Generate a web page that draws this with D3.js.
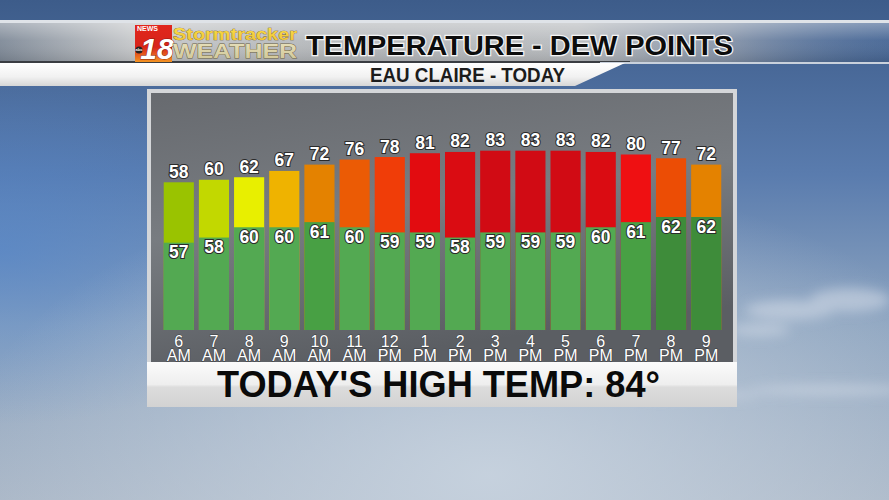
<!DOCTYPE html>
<html lang="en">
<head>
    <meta charset="UTF-8">
    <title>Temperature - Dew Points</title>
    <script src="https://cdn.jsdelivr.net/npm/d3@7"></script>
    <style>
        body { margin: 0; background: #6f8db5; }
        svg { display: block; font-family: "Liberation Sans", Arial, sans-serif; }
    </style>
</head>
<body>
    <div id="chart"></div>

    <script>
        // =============================
        // 1. Data
        // =============================
        const hours = ["6", "7", "8", "9", "10", "11", "12", "1", "2", "3", "4", "5", "6", "7", "8", "9"];
        const periods = ["AM", "AM", "AM", "AM", "AM", "AM", "PM", "PM", "PM", "PM", "PM", "PM", "PM", "PM", "PM", "PM"];
        const temps = [58, 60, 62, 67, 72, 76, 78, 81, 82, 83, 83, 83, 82, 80, 77, 72];
        const dews = [57, 58, 60, 60, 61, 60, 59, 59, 58, 59, 59, 59, 60, 61, 62, 62];
        const highTemp = 84;

        const data = hours.map((h, i) => ({ h, p: periods[i], t: temps[i], d: dews[i] }));

        // =============================
        // 2. SVG Setup
        // =============================
        const width = 889, height = 500;
        const svg = d3.select("#chart").append("svg")
            .attr("width", width)
            .attr("height", height);
        const defs = svg.append("defs");

        function gradient(id, stops, x2 = 0, y2 = 1) {
            const g = defs.append("linearGradient").attr("id", id)
                .attr("x1", 0).attr("y1", 0).attr("x2", x2).attr("y2", y2);
            stops.forEach(([o, c, op]) => g.append("stop").attr("offset", o)
                .attr("stop-color", c).attr("stop-opacity", op == null ? 1 : op));
        }
        function radial(id, cx, cy, r, color, op) {
            const g = defs.append("radialGradient").attr("id", id)
                .attr("cx", cx).attr("cy", cy).attr("r", r);
            g.append("stop").attr("offset", 0).attr("stop-color", color).attr("stop-opacity", op);
            g.append("stop").attr("offset", 1).attr("stop-color", color).attr("stop-opacity", 0);
        }

        gradient("sky", [[0, "#3d5c8a"], [0.35, "#5a7cae"], [0.65, "#8ea5c0"], [1, "#aab7c7"]]);
        gradient("band", [[0, "#7f8a98"], [0.15, "#c6c8ca"], [0.35, "#b6b9bc"], [0.65, "#b9bcbf"], [0.82, "#8593a8"], [1, "#4d6d9b", 0.3]], 1, 0);
        gradient("bandGloss", [[0, "#ffffff", 0.35], [0.45, "#ffffff", 0.05], [1, "#000000", 0.12]]);
        gradient("strip", [[0, "#ffffff"], [0.6, "#f1f1f1"], [1, "#d6d6d6"]]);
        gradient("panel", [[0, "#676a6f"], [0.5, "#787c81"], [1, "#5b5e63"]], 0.3, 1);
        gradient("foot", [[0, "#fbfbfb"], [0.5, "#eeeeee"], [0.56, "#dcdcdc"], [1, "#d2d2d2"]]);
        gradient("logoRed", [[0, "#e0261c"], [0.6, "#d8241a"], [1, "#f39422"]]);
        gradient("logoGold", [[0, "#fbe04a"], [1, "#e0a21c"]]);
        gradient("logoPale", [[0, "#fbf6dc"], [1, "#cfc594"]]);
        radial("glow", 0.55, 0.95, 0.6, "#c9d4e0", 0.9);
        radial("blueLeft", 0, 0.5, 0.35, "#4f84cc", 0.6);

        const blur = defs.append("filter").attr("id", "blur");
        blur.append("feGaussianBlur").attr("stdDeviation", 6);

        // =============================
        // 3. Background
        // =============================
        svg.append("rect").attr("width", width).attr("height", height).attr("fill", "url(#sky)");
        svg.append("rect").attr("width", width).attr("height", height).attr("fill", "url(#blueLeft)");
        svg.append("rect").attr("width", width).attr("height", height).attr("fill", "url(#glow)");

        // faint clouds on the right
        const clouds = svg.append("g").attr("filter", "url(#blur)").attr("fill", "#d5dde8").attr("opacity", 0.55);
        [[790, 310, 45, 10], [850, 300, 40, 12], [760, 330, 30, 6], [830, 390, 80, 5], [700, 395, 60, 4]]
            .forEach(([cx, cy, rx, ry]) => clouds.append("ellipse")
                .attr("cx", cx).attr("cy", cy).attr("rx", rx).attr("ry", ry));

        // =============================
        // 4. Header
        // =============================
        svg.append("rect").attr("y", 20).attr("width", width).attr("height", 3).attr("fill", "#dfe3e8");
        svg.append("rect").attr("y", 23).attr("width", width).attr("height", 39).attr("fill", "url(#band)");
        svg.append("rect").attr("y", 23).attr("width", width).attr("height", 39).attr("fill", "url(#bandGloss)");
        svg.append("rect").attr("y", 61).attr("width", 630).attr("height", 2).attr("fill", "#3a3d42");
        svg.append("rect").attr("x", 600).attr("y", 62).attr("width", 289).attr("height", 2).attr("fill", "#c9d1dc");
        svg.append("polygon").attr("points", "0,63 625,63 575,86 0,86").attr("fill", "url(#strip)");

        // logo
        const logo = svg.append("g");
        logo.append("rect").attr("x", 135).attr("y", 25).attr("width", 37).attr("height", 37)
            .attr("fill", "url(#logoRed)");
        logo.append("circle").attr("cx", 139).attr("cy", 50).attr("r", 3.6).attr("fill", "#222");

        const badge = logo.append("text").attr("font-weight", "bold").attr("fill", "#fff");
        badge.append("tspan").attr("x", 137).attr("y", 31).attr("font-size", 7).text("NEWS");
        badge.append("tspan").attr("x", 139).attr("y", 51.3).attr("text-anchor", "middle")
            .attr("font-size", 4).text("abc");
        badge.append("tspan").attr("x", 157).attr("y", 58.5).attr("text-anchor", "middle")
            .attr("font-size", 30).attr("font-style", "italic")
            .attr("stroke", "#8a1a10").attr("stroke-width", 1).attr("paint-order", "stroke").text("18");

        const brand = logo.append("text").attr("font-weight", "bold").attr("paint-order", "stroke");
        brand.append("tspan").attr("x", 173).attr("y", 40).attr("fill", "url(#logoGold)")
            .attr("font-size", 17).attr("textLength", 124).attr("lengthAdjust", "spacingAndGlyphs")
            .attr("stroke", "#7a5a10").attr("stroke-width", 0.6)
            .text("Stormtracker");
        brand.append("tspan").attr("x", 173).attr("y", 57.5).attr("fill", "url(#logoPale)")
            .attr("font-size", 20).attr("textLength", 124).attr("lengthAdjust", "spacingAndGlyphs")
            .attr("stroke", "#6a6040").attr("stroke-width", 0.8)
            .text("WEATHER");

        svg.append("text").attr("x", 306).attr("y", 55)
            .attr("font-size", 28).attr("font-weight", "bold").attr("fill", "#0c0c0c")
            .attr("stroke", "#f4f4f4").attr("stroke-width", 2.5).attr("paint-order", "stroke")
            .attr("textLength", 427).attr("lengthAdjust", "spacingAndGlyphs")
            .text("TEMPERATURE - DEW POINTS");

        svg.append("text").attr("x", 370).attr("y", 82)
            .attr("font-size", 19.5).attr("font-weight", "bold").attr("fill", "#1c1c1c")
            .attr("textLength", 195).attr("lengthAdjust", "spacingAndGlyphs")
            .text("EAU CLAIRE - TODAY");

        // =============================
        // 5. Panel
        // =============================
        svg.append("rect").attr("x", 147).attr("y", 89).attr("width", 590).attr("height", 318).attr("fill", "#d4d6d9");
        svg.append("rect").attr("x", 151).attr("y", 93).attr("width", 582).attr("height", 270).attr("fill", "url(#panel)");

        // =============================
        // 6. Scales
        // =============================
        const x = d3.scaleBand().domain(d3.range(data.length)).range([162.5, 722.5]).paddingInner(0.143).paddingOuter(0.035);
        const base = 330;
        const yTemp = d3.scaleLinear().domain([58, 83]).range([182.3, 150.7]);
        const yDew = d3.scaleLinear().domain([40, 62]).range([base, 217]);

        const tempColor = d3.scaleLinear()
            .domain([58, 60, 62, 67, 72, 76, 77, 78, 80, 81, 83])
            .range(["#9ac300", "#c2d800", "#e8ef00", "#efb300", "#e48200", "#eb5b05", "#ec4d05", "#f03d08", "#ef1012", "#e20c10", "#d10b14"])
            .clamp(true);
        const dewColor = d3.scaleLinear().domain([60, 61, 62]).range(["#53a952", "#48a044", "#3e8c3a"]).clamp(true);

        const bars = svg.append("g").selectAll("g").data(data).join("g");

        bars.append("rect")
            .attr("x", (d, i) => x(i)).attr("width", x.bandwidth())
            .attr("y", d => yTemp(d.t)).attr("height", d => base - yTemp(d.t))
            .attr("fill", d => tempColor(d.t));

        bars.append("rect")
            .attr("x", (d, i) => x(i)).attr("width", x.bandwidth())
            .attr("y", d => yDew(d.d)).attr("height", d => base - yDew(d.d))
            .attr("fill", d => dewColor(d.d));

        const labelStyle = sel => sel
            .attr("text-anchor", "middle").attr("fill", "#fff").attr("font-weight", "bold")
            .attr("stroke", "#2a2a2a").attr("stroke-width", 2).attr("paint-order", "stroke")
            .attr("font-size", 17.5);

        bars.append("text").call(labelStyle)
            .attr("x", (d, i) => x(i) + x.bandwidth() / 2)
            .attr("y", d => yTemp(d.t) - 4.5)
            .text(d => d.t);

        bars.append("text").call(labelStyle)
            .attr("x", (d, i) => x(i) + x.bandwidth() / 2)
            .attr("y", d => yDew(d.d) + 15.5)
            .text(d => d.d);

        // time labels, two lines in one text
        const timeText = bars.append("text")
            .attr("text-anchor", "middle").attr("fill", "#fff")
            .attr("stroke", "#3a3c40").attr("stroke-width", 1).attr("paint-order", "stroke")
            .attr("font-size", 16);
        timeText.append("tspan")
            .attr("x", (d, i) => x(i) + x.bandwidth() / 2).attr("y", 346.5)
            .text(d => d.h);
        timeText.append("tspan")
            .attr("x", (d, i) => x(i) + x.bandwidth() / 2).attr("y", 360.5)
            .text(d => d.p);

        // =============================
        // 7. Footer
        // =============================
        svg.append("rect").attr("x", 147).attr("y", 362).attr("width", 590).attr("height", 45).attr("fill", "url(#foot)");
        svg.append("text").attr("x", 217).attr("y", 397)
            .attr("font-size", 37.5).attr("font-weight", "bold").attr("fill", "#0a0a0a")
            .attr("textLength", 443).attr("lengthAdjust", "spacingAndGlyphs")
            .text(`TODAY'S HIGH TEMP: ${highTemp}°`);
    </script>
</body>
</html>
